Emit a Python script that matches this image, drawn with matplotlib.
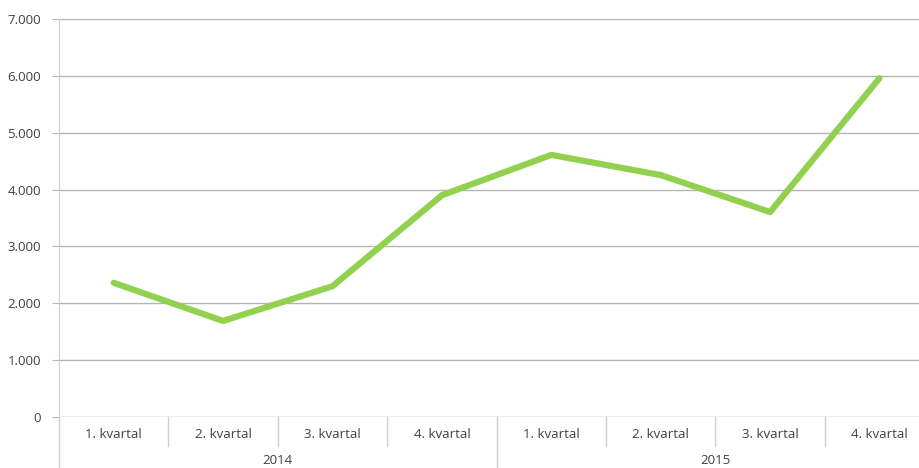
import matplotlib
matplotlib.use('Agg')
import matplotlib.pyplot as plt
import matplotlib.transforms as mtransforms
from matplotlib.ticker import FuncFormatter

years = ["2014", "2015"]
quarters = ["1. kvartal", "2. kvartal", "3. kvartal", "4. kvartal"]
values = [2360, 1690, 2300, 3900, 4610, 4255, 3605, 5960]

GREEN = "#92D050"
GRID = "#b5b5b5"
VLINE = "#d0d0d0"
TEXT = "#404040"

plt.rcParams['font.family'] = ['Open Sans', 'DejaVu Sans']

W, H = 920, 468
fig = plt.figure(figsize=(W / 100, H / 100), dpi=100)
# plot area: left 59 px, zero line at 417 px, top gridline at 19 px
ax = fig.add_axes([59 / W, (H - 417) / H, (W - 59) / W, (417 - 19) / H])

n = len(years) * len(quarters)
x = list(range(n))
ax.plot(x, values, color=GREEN, linewidth=4.5, solid_capstyle='round',
        solid_joinstyle='round', zorder=3)

# category width ~109.4 px, right edge cropped by the image
cat_w = 109.4
ax.set_xlim(-0.5, -0.5 + (W - 59) / cat_w)
ax.set_ylim(0, 7000)
ax.set_yticks(range(0, 7001, 1000))
ax.yaxis.set_major_formatter(FuncFormatter(lambda v, p: f"{int(v):,}".replace(",", ".")))
ax.tick_params(axis='y', length=5, color=GRID, labelsize=9.5, labelcolor=TEXT, pad=8)
ax.set_xticks([])
ax.grid(True, axis='y', color=GRID, linewidth=1)
ax.set_axisbelow(True)

for s in ['top', 'right', 'bottom']:
    ax.spines[s].set_visible(False)
ax.spines['left'].set_color(VLINE)

trans = mtransforms.blended_transform_factory(ax.transData, ax.transAxes)
px = 1 / (417 - 19)  # one pixel in axes fraction (vertical)

# category labels and separators
labels = [q for _ in years for q in quarters]
for i, lab in enumerate(labels):
    ax.text(i, -18 * px, lab, transform=trans, ha='center', va='center',
            fontsize=9.5, color=TEXT)
for i in range(1, n):
    bottom = -(H - 417) * px if i % len(quarters) == 0 else -29 * px
    ax.plot([i - 0.5, i - 0.5], [0, bottom], transform=trans, color=VLINE,
            linewidth=1, clip_on=False)
ax.plot([-0.5, -0.5], [0, -(H - 417) * px], transform=trans, color=VLINE,
        linewidth=1, clip_on=False)

# year labels
for j, yr in enumerate(years):
    center = j * len(quarters) + (len(quarters) - 1) / 2
    ax.text(center, -44 * px, yr, transform=trans, ha='center', va='center',
            fontsize=9.5, color=TEXT)

fig.savefig("out.png", dpi=100)
